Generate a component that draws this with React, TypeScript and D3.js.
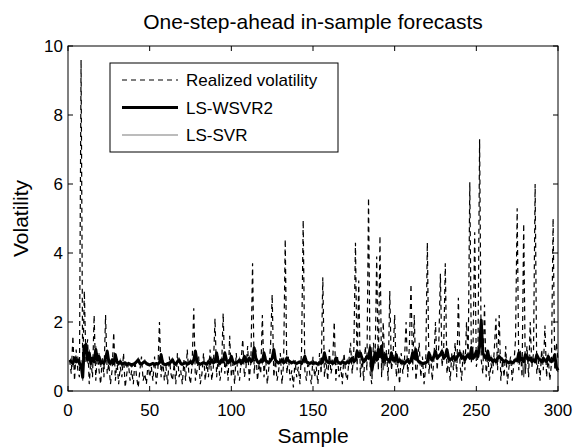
import React, { useEffect, useRef } from 'react';
import * as d3 from 'd3';

// realized volatility, samples 1..300
const realized = [
  0.9, 0.5, 1.6, 0.3, 1.2, 0.6, 0.4, 9.6, 0.5, 2.9,
  0.8, 1.5, 0.2, 0.9, 0.4, 2.2, 0.3, 1.1, 0.6, 0.2,
  1.0, 0.4, 2.2, 0.5, 0.8, 0.2, 0.6, 1.7, 0.3, 0.9,
  0.2, 0.7, 0.4, 1.1, 0.1, 0.5, 0.8, 0.3, 0.6, 0.2,
  0.9, 0.4, 0.1, 0.6, 1.0, 0.3, 0.5, 0.2, 0.8, 0.4,
  0.7, 0.3, 1.0, 0.2, 0.6, 2.0, 0.4, 0.9, 0.3, 0.7,
  0.2, 1.0, 0.5, 0.3, 0.8, 0.2, 1.1, 0.4, 0.6, 0.2,
  0.9, 0.3, 1.2, 0.5, 0.2, 0.8, 2.4, 0.3, 0.6, 1.0,
  0.2, 0.5, 1.1, 0.3, 0.8, 0.4, 1.2, 0.3, 0.7, 2.1,
  0.4, 1.0, 0.3, 0.6, 2.25, 0.5, 0.9, 0.3, 1.6, 0.4,
  0.8, 0.2, 1.1, 0.5, 0.3, 0.9, 1.5, 0.4, 0.7, 1.3,
  0.3, 0.9, 3.7, 0.5, 1.2, 0.3, 0.8, 0.5, 2.2, 0.4,
  1.0, 0.2, 0.7, 1.3, 2.8, 0.4, 0.9, 0.3, 0.6, 1.1,
  0.2, 0.8, 4.4, 0.5, 1.0, 0.3, 0.6, 0.1, 0.9, 0.4,
  0.7, 0.2, 1.2, 4.95, 0.6, 0.3, 0.9, 0.5, 0.2, 1.0,
  0.4, 0.7, 0.2, 1.1, 0.5, 3.3, 0.4, 0.9, 0.3, 1.2,
  0.5, 0.8, 2.0, 0.3, 1.0, 0.4, 0.7, 0.2, 1.1, 0.5,
  0.3, 0.9, 1.4, 0.5, 1.2, 4.3, 0.6, 3.2, 0.4, 1.0,
  0.3, 1.3, 0.6, 5.6, 0.5, 0.2, 1.4, 0.8, 3.9, 0.6,
  4.5, 0.4, 2.0, 0.7, 1.2, 0.3, 2.9, 0.6, 1.0, 2.2,
  0.4, 0.8, 0.2, 1.1, 0.5, 0.9, 2.0, 0.4, 1.3, 3.1,
  0.6, 2.2, 0.3, 0.8, 1.4, 0.4, 1.0, 0.2, 0.7, 4.3,
  0.5, 1.1, 0.3, 0.9, 2.0, 0.6, 1.3, 3.4, 0.7, 1.2,
  3.7, 0.5, 0.9, 0.3, 1.1, 0.6, 1.4, 0.4, 2.7, 0.8,
  0.3, 1.2, 0.6, 2.0, 0.9, 6.05, 0.8, 1.3, 4.6, 0.7,
  1.0, 7.3, 0.9, 0.5, 2.5, 0.4, 1.1, 0.3, 0.8, 0.5,
  1.2, 2.1, 0.6, 2.2, 0.3, 0.9, 0.4, 1.3, 0.2, 0.7,
  1.0, 0.3, 0.8, 1.5, 5.3, 0.6, 1.2, 0.4, 4.85, 0.5,
  1.3, 0.4, 2.0, 0.7, 1.1, 6.0, 0.5, 0.9, 0.3, 1.2,
  0.6, 1.9, 0.4, 1.0, 0.3, 0.8, 5.0, 0.6, 1.4, 0.9
];

// LS-WSVR2 forecasts
const wsvr2 = [
  0.9, 0.85, 0.8, 0.95, 0.85, 0.9, 0.8, 0.75, 0.4, 1.3,
  1.35, 0.9, 1.1, 0.8, 0.95, 0.85, 1.2, 0.9, 1.0, 0.8,
  0.85, 0.8, 0.95, 1.15, 0.85, 0.8, 0.9, 0.8, 1.05, 0.85,
  0.8, 0.85, 0.78, 0.8, 0.82, 0.76, 0.8, 0.78, 0.75, 0.78,
  0.8, 0.85, 0.9, 0.8, 0.78, 0.82, 0.85, 0.8, 0.78, 0.76,
  0.78, 0.8, 0.76, 0.8, 0.78, 0.82, 1.05, 0.8, 0.78, 0.76,
  0.8, 0.78, 0.85, 0.9, 0.8, 0.78, 0.85, 0.9, 0.8, 0.78,
  0.8, 0.82, 0.78, 0.8, 0.85, 0.8, 0.9, 1.15, 0.85, 0.8,
  0.78, 0.8, 0.82, 0.8, 0.78, 0.85, 0.8, 0.9, 0.82, 0.85,
  1.1, 0.85, 0.8, 0.9, 0.85, 1.1, 0.9, 0.82, 0.85, 1.0,
  0.85, 0.8, 0.82, 0.85, 0.9, 0.8, 0.85, 1.0, 0.85, 0.88,
  0.95, 0.85, 0.9, 1.25, 0.95, 0.85, 0.82, 0.88, 0.85, 1.1,
  0.88, 0.85, 0.82, 0.88, 0.95, 1.2, 0.9, 0.85, 0.82, 0.85,
  0.9, 0.82, 0.85, 0.95, 0.88, 0.85, 0.82, 0.84, 0.82, 0.8,
  0.82, 0.85, 0.8, 0.88, 1.0, 0.85, 0.82, 0.8, 0.82, 0.8,
  0.82, 0.8, 0.78, 0.82, 0.8, 0.85, 1.1, 0.9, 0.85, 0.82,
  0.85, 0.8, 0.82, 0.95, 0.85, 0.82, 0.8, 0.85, 0.82, 0.8,
  0.85, 0.82, 0.9, 0.95, 0.85, 0.9, 1.15, 1.0, 1.1, 0.95,
  0.85, 0.9, 1.0, 0.95, 1.25, 0.6, 0.85, 1.1, 0.9, 1.2,
  1.0, 1.3, 0.85, 1.05, 0.95, 0.9, 0.85, 1.1, 0.9, 0.88,
  1.05, 0.85, 0.9, 0.82, 0.85, 0.8, 0.85, 0.9, 0.82, 0.88,
  1.1, 0.95, 1.2, 0.9, 0.85, 0.82, 0.8, 0.8, 0.82, 0.85,
  1.1, 0.95, 0.9, 1.0, 1.15, 0.95, 1.0, 1.05, 1.15, 0.95,
  1.0, 1.2, 0.95, 0.9, 0.95, 1.0, 0.9, 0.95, 1.05, 1.1,
  0.95, 1.0, 0.9, 1.0, 1.05, 0.95, 1.25, 0.95, 1.0, 1.15,
  1.0, 1.3, 2.05, 1.1, 1.0, 0.95, 1.15, 0.9, 0.95, 0.85,
  0.9, 0.85, 0.95, 1.0, 0.95, 0.9, 0.85, 0.88, 0.85, 0.82,
  0.85, 0.82, 0.85, 0.9, 0.88, 1.1, 0.9, 0.95, 0.85, 1.05,
  1.0, 0.9, 0.95, 0.85, 0.9, 0.85, 1.05, 0.95, 0.9, 0.85,
  0.95, 0.9, 0.85, 1.0, 0.9, 0.85, 0.9, 1.05, 0.7, 0.6
];

// LS-SVR forecasts
const svr = [
  0.8, 0.95, 0.7, 1.0, 0.8, 1.0, 0.7, 0.9, 0.3, 1.2,
  1.4, 0.8, 1.2, 0.7, 1.0, 0.8, 1.3, 0.8, 1.1, 0.7,
  0.9, 0.7, 1.0, 1.2, 0.8, 0.75, 0.95, 0.75, 1.1, 0.8,
  0.75, 0.9, 0.72, 0.82, 0.78, 0.7, 0.82, 0.74, 0.7, 0.76,
  0.82, 0.88, 0.95, 0.76, 0.74, 0.85, 0.9, 0.76, 0.74, 0.72,
  0.76, 0.82, 0.72, 0.78, 0.74, 0.85, 1.1, 0.76, 0.74, 0.72,
  0.78, 0.74, 0.9, 0.95, 0.76, 0.74, 0.9, 0.95, 0.76, 0.74,
  0.78, 0.85, 0.74, 0.78, 0.9, 0.76, 0.95, 1.2, 0.8, 0.76,
  0.74, 0.78, 0.86, 0.76, 0.74, 0.9, 0.76, 0.95, 0.78, 0.9,
  1.15, 0.8, 0.76, 0.95, 0.8, 1.15, 0.85, 0.78, 0.9, 1.05,
  0.8, 0.76, 0.86, 0.8, 0.95, 0.76, 0.9, 1.05, 0.8, 0.92,
  1.0, 0.8, 0.95, 1.3, 0.9, 0.8, 0.78, 0.92, 0.8, 1.15,
  0.84, 0.8, 0.78, 0.92, 1.0, 1.25, 0.85, 0.8, 0.78, 0.9,
  0.95, 0.78, 0.9, 1.0, 0.84, 0.8, 0.78, 0.88, 0.78, 0.76,
  0.86, 0.8, 0.76, 0.92, 1.05, 0.8, 0.78, 0.76, 0.86, 0.76,
  0.78, 0.84, 0.74, 0.86, 0.76, 0.9, 1.15, 0.85, 0.8, 0.78,
  0.9, 0.76, 0.86, 1.0, 0.8, 0.78, 0.76, 0.9, 0.78, 0.76,
  0.9, 0.78, 0.95, 1.0, 0.8, 0.95, 1.2, 0.95, 1.15, 0.9,
  0.8, 0.95, 1.05, 0.9, 1.3, 0.4, 0.8, 1.2, 0.85, 1.25,
  0.95, 1.35, 0.6, 1.1, 0.9, 0.85, 0.8, 1.15, 0.85, 0.82,
  1.1, 0.8, 0.95, 0.78, 0.9, 0.76, 0.9, 0.85, 0.78, 0.92,
  1.15, 0.9, 1.25, 0.85, 0.8, 0.78, 0.76, 0.84, 0.78, 0.9,
  1.15, 0.9, 0.85, 1.05, 1.2, 0.9, 1.05, 1.1, 1.2, 0.9,
  1.05, 1.25, 0.9, 0.85, 1.0, 0.95, 0.85, 1.0, 1.1, 1.15,
  0.9, 1.05, 0.85, 1.05, 1.1, 0.9, 1.3, 0.9, 1.05, 1.2,
  0.95, 1.35, 2.0, 1.15, 0.95, 1.0, 1.2, 0.85, 1.0, 0.8,
  0.95, 0.8, 1.0, 1.05, 0.9, 0.95, 0.8, 0.92, 0.8, 0.78,
  0.9, 0.78, 0.9, 0.95, 0.84, 1.15, 0.85, 1.0, 0.4, 1.1,
  1.05, 0.85, 1.0, 0.8, 0.95, 0.8, 1.1, 0.9, 0.95, 0.8,
  1.0, 0.85, 0.9, 1.05, 0.85, 0.9, 0.85, 1.1, 0.65, 0.55
];

const xTicks = [0, 50, 100, 150, 200, 250, 300];
const yTicks = [0, 2, 4, 6, 8, 10];
const legendLabels = ['Realized volatility', 'LS-WSVR2', 'LS-SVR'];

const W = 575, H = 447;
const margin = { top: 46, left: 68, right: 17, bottom: 56 };
const font = '"Liberation Sans", Arial, Helvetica, sans-serif';

function App() {
  const ref = useRef<SVGSVGElement>(null);

  useEffect(() => {
    const svg = d3.select(ref.current);
    svg.selectAll('*').remove();

    const width = W - margin.left - margin.right,
      height = H - margin.top - margin.bottom;

    const x = d3.scaleLinear().domain([0, 300]).range([margin.left, margin.left + width]);
    const y = d3.scaleLinear().domain([0, 10]).range([margin.top + height, margin.top]);

    svg.append('rect').attr('width', W).attr('height', H).attr('fill', '#fff');

    const line = d3.line<number>()
      .x((d, i) => x(i + 1))
      .y(d => y(d));

    const plot = svg.append('g');

    plot.append('path')
      .datum(realized)
      .attr('d', line)
      .attr('fill', 'none')
      .attr('stroke', '#000')
      .attr('stroke-width', 1.2)
      .attr('stroke-dasharray', '5,4');

    // thin gray line sits under the thick one, as in the original
    plot.append('path')
      .datum(svr)
      .attr('d', line)
      .attr('fill', 'none')
      .attr('stroke', '#555')
      .attr('stroke-width', 1.2);

    plot.append('path')
      .datum(wsvr2)
      .attr('d', line)
      .attr('fill', 'none')
      .attr('stroke', '#000')
      .attr('stroke-width', 3)
      .attr('stroke-linejoin', 'round');

    // axes box
    const x0 = margin.left, x1 = margin.left + width;
    const y0 = margin.top + height, y1 = margin.top;
    svg.append('rect')
      .attr('x', x0).attr('y', y1)
      .attr('width', width).attr('height', height)
      .attr('fill', 'none').attr('stroke', '#000').attr('stroke-width', 1);

    const tickLen = 5;
    const ticks = svg.append('g').attr('stroke', '#000').attr('stroke-width', 1);
    xTicks.forEach(t => {
      ticks.append('line').attr('x1', x(t)).attr('x2', x(t)).attr('y1', y0).attr('y2', y0 - tickLen);
      ticks.append('line').attr('x1', x(t)).attr('x2', x(t)).attr('y1', y1).attr('y2', y1 + tickLen);
    });
    yTicks.forEach(t => {
      ticks.append('line').attr('x1', x0).attr('x2', x0 + tickLen).attr('y1', y(t)).attr('y2', y(t));
      ticks.append('line').attr('x1', x1).attr('x2', x1 - tickLen).attr('y1', y(t)).attr('y2', y(t));
    });

    svg.append('g').selectAll('text')
      .data(xTicks)
      .enter().append('text')
      .attr('x', d => x(d))
      .attr('y', y0 + 25)
      .attr('text-anchor', 'middle')
      .attr('font-family', font)
      .attr('font-size', 17)
      .text(d => d);

    svg.append('g').selectAll('text')
      .data(yTicks)
      .enter().append('text')
      .attr('x', x0 - 5)
      .attr('y', d => y(d) + 6)
      .attr('text-anchor', 'end')
      .attr('font-family', font)
      .attr('font-size', 17)
      .text(d => d);

    svg.append('text')
      .attr('x', (x0 + x1) / 2)
      .attr('y', 443)
      .attr('text-anchor', 'middle')
      .attr('font-family', font)
      .attr('font-size', 21)
      .text('Sample');

    svg.append('text')
      .attr('transform', 'translate(28,' + (y0 + y1) / 2 + ') rotate(-90)')
      .attr('text-anchor', 'middle')
      .attr('font-family', font)
      .attr('font-size', 21)
      .text('Volatility');

    svg.append('text')
      .attr('x', (x0 + x1) / 2)
      .attr('y', 29)
      .attr('text-anchor', 'middle')
      .attr('font-family', font)
      .attr('font-size', 21)
      .text('One-step-ahead in-sample forecasts');

    // legend
    const lg = svg.append('g');
    lg.append('rect')
      .attr('x', 110).attr('y', 63)
      .attr('width', 228).attr('height', 89)
      .attr('fill', '#fff').attr('stroke', '#000').attr('stroke-width', 1);
    const styles = [
      { w: 1.2, c: '#000', dash: '5,4' },
      { w: 3, c: '#000', dash: null },
      { w: 1.2, c: '#7a7a7a', dash: null }
    ];
    legendLabels.forEach((label, i) => {
      const cy = 80 + i * 27.5;
      lg.append('line')
        .attr('x1', 122).attr('x2', 178)
        .attr('y1', cy).attr('y2', cy)
        .attr('stroke', styles[i].c)
        .attr('stroke-width', styles[i].w)
        .attr('stroke-dasharray', styles[i].dash);
      lg.append('text')
        .attr('x', 186).attr('y', cy + 6)
        .attr('font-family', font)
        .attr('font-size', 17)
        .text(label);
    });
  }, []);

  return (
    <svg ref={ref} width={W} height={H} style={{ position: 'absolute', left: 0, top: 0 }} />
  );
}

export default App;
